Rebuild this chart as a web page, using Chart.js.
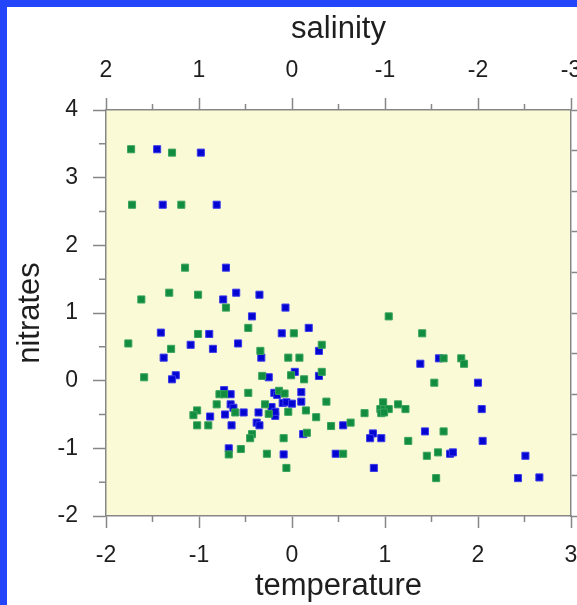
<!DOCTYPE html>
<html>
<head>
<meta charset="utf-8">
<title>nitrates vs temperature / salinity</title>
<script src="https://cdn.jsdelivr.net/npm/chart.js@4"></script>
<style>
  html, body { margin: 0; padding: 0; background: #ffffff; }
  canvas { display: block; }
</style>
</head>
<body>
<canvas id="scatter" width="577" height="605"></canvas>
<script>
// axis ranges
const tempMin = -2, tempMax = 3;      // bottom axis
const salMin = -3, salMax = 2;        // top axis (drawn reversed)
const nitMin = -2, nitMax = 4;        // left axis
const rightMin = 0, rightMax = 10;    // right axis, labels fall outside the picture

// blue series
const blueTemp = [-1.45, -0.98, -1.39, -0.81, -0.71, -0.60, -0.74, -0.35, -0.07, -0.43,
  -1.41, -0.89, -0.11, 0.18, -1.09, -0.58, -0.85, 0.29, -1.38, -0.33,
  0.03, 0.29, -1.25, -1.29, -0.25, -0.73, -0.66, -0.19, -0.16, 0.10,
  0.10, -0.10, -0.06, 0.00, -0.66, -0.63, -0.22, -0.52, -0.36, -0.18,
  -0.18, -0.88, -0.72, -0.38, -0.35, -0.65, 0.12, -0.68, -0.09, 1.38,
  1.58, 2.00, 2.04, 2.05, 0.55, 0.87, 0.84, 0.96, 1.43, 0.47,
  1.70, 1.73, 0.88, 2.51, 2.43, 2.66];
const blueNitrate = [3.42, 3.37, 2.60, 2.60, 1.67, 1.30, 1.20, 1.27, 1.08, 0.95,
  0.71, 0.69, 0.70, 0.78, 0.53, 0.55, 0.47, 0.44, 0.34, 0.34,
  0.13, 0.07, 0.08, 0.02, 0.05, -0.14, -0.20, -0.18, -0.21, -0.17,
  -0.31, -0.33, -0.32, -0.34, -0.35, -0.40, -0.39, -0.47, -0.47, -0.52,
  -0.46, -0.53, -0.50, -0.62, -0.66, -0.66, -0.79, -1.00, -1.09, 0.25,
  0.33, -0.03, -0.42, -0.89, -0.66, -0.78, -0.85, -0.85, -0.75, -1.08,
  -1.08, -1.06, -1.29, -1.11, -1.44, -1.43];

// green series
const greenTemp = [-1.73, -1.29, -1.72, -1.19, -1.15, -1.32, -1.62, -1.01, -0.71, -0.47,
  -1.01, 0.02, -1.76, -1.30, -0.34, 0.32, -0.04, 0.08, 0.32, -0.01,
  -1.59, -0.32, 0.13, -0.78, -0.73, -0.47, -0.14, -0.08, 0.37, -0.81,
  -0.29, -0.61, -0.25, -0.04, 0.15, -1.02, -1.06, 0.26, -1.02, -0.90,
  0.42, 0.16, -0.43, -0.45, -0.09, -0.55, -0.68, -0.27, -0.06, 1.04,
  1.40, 1.63, 1.82, 1.85, 1.53, 0.98, 0.95, 0.99, 1.04, 0.96,
  0.99, 1.14, 1.22, 0.78, 0.63, 1.25, 1.63, 0.55, 1.45, 1.57,
  1.55];
const greenNitrate = [3.42, 3.37, 2.60, 2.60, 1.67, 1.30, 1.20, 1.27, 1.08, 0.78,
  0.69, 0.70, 0.55, 0.47, 0.44, 0.53, 0.34, 0.34, 0.13, 0.08,
  0.05, 0.07, 0.02, -0.20, -0.20, -0.18, -0.15, -0.19, -0.31, -0.35,
  -0.35, -0.47, -0.49, -0.46, -0.44, -0.44, -0.51, -0.54, -0.66, -0.66,
  -0.67, -0.77, -0.79, -0.85, -0.85, -1.01, -1.09, -1.08, -1.29, 0.95,
  0.70, 0.33, 0.33, 0.25, -0.03, -0.32, -0.42, -0.42, -0.42, -0.48,
  -0.47, -0.35, -0.42, -0.48, -0.62, -0.89, -0.75, -1.08, -1.11, -1.06,
  -1.44];

const axisGray = '#878787';
const textColor = '#1e1e1e';
const plotFill = '#fafad6';
const frameBlue = '#2446fb';

Chart.defaults.font.family = '"Liberation Sans", Arial, Helvetica, sans-serif';
const tickFont = { size: 23 };
const titleFont = { size: 31 };

function toPoints(xs, ys) {
    return xs.map((x, i) => ({ x: x, y: ys[i] }));
}

// cream plot area, minor ticks and the blue slide frame
const decorPlugin = {
    id: 'decor',
    beforeDraw(chart) {
        const { ctx, chartArea: a } = chart;
        ctx.save();
        ctx.fillStyle = '#ffffff';
        ctx.fillRect(0, 0, chart.width, chart.height);
        ctx.fillStyle = plotFill;
        ctx.fillRect(a.left, a.top, a.right - a.left, a.bottom - a.top);
        ctx.restore();
    },
    afterDraw(chart) {
        const { ctx, chartArea: a, scales } = chart;
        ctx.save();
        ctx.strokeStyle = axisGray;
        ctx.lineWidth = 1.5;
        ctx.beginPath();
        for (let v = tempMin + 0.5; v < tempMax; v += 1) {
            const px = scales.x.getPixelForValue(v);
            ctx.moveTo(px, a.bottom);
            ctx.lineTo(px, a.bottom + 6);
        }
        for (let v = salMin + 0.5; v < salMax; v += 1) {
            const px = scales.x2.getPixelForValue(v);
            ctx.moveTo(px, a.top);
            ctx.lineTo(px, a.top - 6);
        }
        for (let v = nitMin + 0.5; v < nitMax; v += 1) {
            const py = scales.y.getPixelForValue(v);
            ctx.moveTo(a.left, py);
            ctx.lineTo(a.left - 7, py);
        }
        ctx.stroke();
        ctx.fillStyle = frameBlue;
        ctx.fillRect(0, 0, chart.width, 7);
        ctx.fillRect(0, 0, 7, chart.height);
        ctx.restore();
    }
};

function fixSize(prop, size) {
    return (s) => {
        s[prop] = size;
        s.paddingLeft = 0;
        s.paddingRight = 0;
    };
}

new Chart(document.getElementById('scatter'), {
    type: 'scatter',
    data: {
        datasets: [{
            label: 'green',
            data: toPoints(greenTemp, greenNitrate),
            backgroundColor: '#128c3e',
            borderColor: '#3aa35e',
            borderWidth: 1,
            pointStyle: 'rect',
            pointRadius: 5,
            xAxisID: 'x',
            yAxisID: 'y'
        }, {
            label: 'blue',
            data: toPoints(blueTemp, blueNitrate),
            backgroundColor: '#0505d2',
            borderColor: '#3a3aea',
            borderWidth: 1,
            pointStyle: 'rect',
            pointRadius: 5,
            xAxisID: 'x',
            yAxisID: 'y'
        }]
    },
    options: {
        responsive: false,
        animation: false,
        layout: { padding: 0 },
        plugins: {
            legend: { display: false },
            tooltip: { enabled: false }
        },
        scales: {
            x: {
                type: 'linear',
                position: 'bottom',
                min: tempMin,
                max: tempMax,
                afterFit: fixSize('height', 89),
                border: { color: axisGray, width: 1.5 },
                grid: { drawOnChartArea: false, tickLength: 12, tickColor: axisGray, tickWidth: 1.5 },
                ticks: { stepSize: 1, padding: 14, color: textColor, font: tickFont, callback: v => String(v) },
                title: { display: true, text: 'temperature', color: textColor, font: titleFont, padding: 0 }
            },
            x2: {
                type: 'linear',
                position: 'top',
                min: salMin,
                max: salMax,
                reverse: true,
                afterFit: fixSize('height', 110),
                border: { color: axisGray, width: 1.5 },
                grid: { drawOnChartArea: false, tickLength: 12, tickColor: axisGray, tickWidth: 1.5 },
                ticks: { stepSize: 1, padding: 14, color: textColor, font: tickFont, callback: v => String(v) },
                title: { display: true, text: 'salinity', color: textColor, font: titleFont, padding: { top: 11, bottom: 0 } }
            },
            y: {
                type: 'linear',
                position: 'left',
                min: nitMin,
                max: nitMax,
                afterFit: fixSize('width', 106),
                border: { color: axisGray, width: 1.5 },
                grid: { drawOnChartArea: false, tickLength: 13, tickColor: axisGray, tickWidth: 1.5 },
                ticks: { stepSize: 1, padding: 15, color: textColor, font: tickFont, callback: v => String(v) },
                title: { display: true, text: 'nitrates', color: textColor, font: titleFont, padding: { top: 12, bottom: 0 } }
            },
            y2: {
                type: 'linear',
                position: 'right',
                min: rightMin,
                max: rightMax,
                afterFit: fixSize('width', 6),
                border: { color: axisGray, width: 1.5 },
                grid: { drawOnChartArea: false, tickLength: 6, tickColor: axisGray, tickWidth: 1.5 },
                ticks: { stepSize: 1, display: false }
            }
        }
    },
    plugins: [decorPlugin]
});
</script>
</body>
</html>
